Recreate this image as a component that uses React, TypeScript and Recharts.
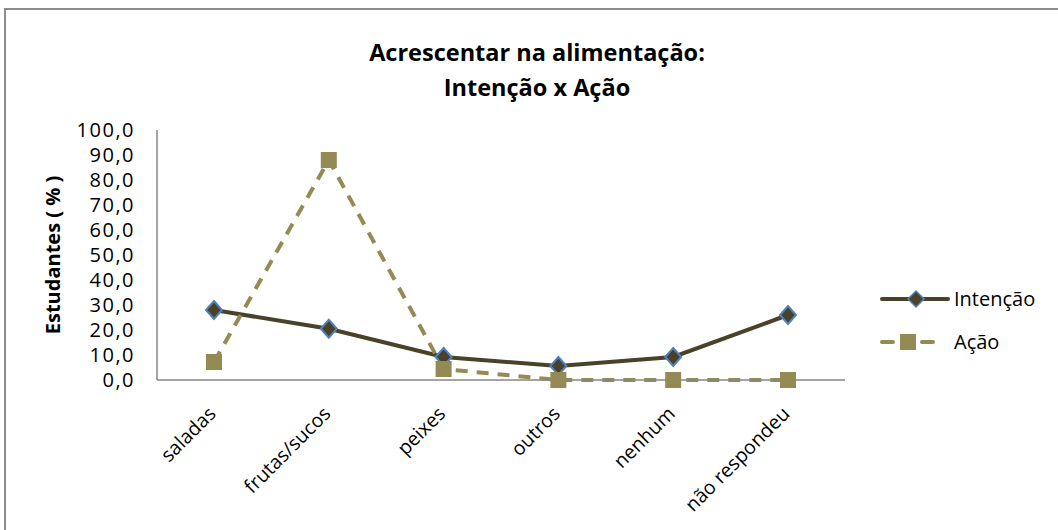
import React from 'react';
import { LineChart, Line, XAxis, YAxis } from 'recharts';

const categories = ['saladas', 'frutas/sucos', 'peixes', 'outros', 'nenhum', 'não respondeu'];
const intencao = [28.0, 20.5, 9.2, 5.6, 9.2, 26.0];
const acao = [7.2, 88.0, 4.4, 0.0, 0.0, 0.0];
const yTicks = [0, 10, 20, 30, 40, 50, 60, 70, 80, 90, 100];

const data = categories.map((c, i) => ({ cat: c, intencao: intencao[i], acao: acao[i] }));

const FONT = '"Open Sans", "DejaVu Sans", sans-serif';
const C_INT = '#4A4228';
const C_ACAO = '#948A54';
const C_EDGE = '#4F81BD';

const Diamond = (props: any) => {
  const { cx, cy } = props;
  if (cx == null || cy == null) return null;
  const r = 9;
  return (
    <path
      d={`M${cx},${cy - r} L${cx + r - 1},${cy} L${cx},${cy + r} L${cx - r + 1},${cy} Z`}
      fill={C_INT}
      stroke={C_EDGE}
      strokeWidth={2}
    />
  );
};

const Square = (props: any) => {
  const { cx, cy } = props;
  if (cx == null || cy == null) return null;
  const r = 8;
  return <rect x={cx - r} y={cy - r} width={2 * r} height={2 * r} fill={C_ACAO} />;
};

const XTick = (props: any) => {
  const { x, y, payload } = props;
  const ax = x + 3;
  const ay = y + 27;
  return (
    <text
      x={ax}
      y={ay}
      transform={`rotate(-45 ${ax} ${ay})`}
      textAnchor="end"
      fontSize={19.5}
      fontFamily={FONT}
      fill="#000"
    >
      {payload.value}
    </text>
  );
};

const YTick = (props: any) => {
  const { x, y, payload } = props;
  return (
    <text x={x} y={y} dy="0.36em" textAnchor="end" fontSize={20} letterSpacing={1.5} fontFamily={FONT} fill="#000">
      {payload.value.toFixed(1).replace('.', ',')}
    </text>
  );
};

const LegendBox = () => (
  <svg width={175} height={80} style={{ position: 'absolute', left: 880, top: 285 }}>
    <line x1={2} y1={14} x2={68} y2={14} stroke={C_INT} strokeWidth={4} strokeLinecap="round" />
    <path d="M36,6 L44,14 L36,22 L28,14 Z" fill={C_INT} stroke={C_EDGE} strokeWidth={1.5} />
    <text x={74} y={14} dy="0.36em" fontSize={20} fontFamily={FONT} fill="#000">Intenção</text>
    <line x1={2} y1={57} x2={13} y2={57} stroke={C_ACAO} strokeWidth={4} strokeLinecap="round" />
    <line x1={42} y1={57} x2={53} y2={57} stroke={C_ACAO} strokeWidth={4} strokeLinecap="round" />
    <rect x={20} y={49} width={16} height={16} fill={C_ACAO} />
    <text x={74} y={57} dy="0.36em" fontSize={20} fontFamily={FONT} fill="#000">Ação</text>
  </svg>
);

export default function App() {
  return (
    <div style={{ position: 'absolute', left: 0, top: 0, width: 1058, height: 530, background: '#fff', overflow: 'hidden' }}>
      <div style={{ position: 'absolute', left: 4, top: 8, width: 1070, height: 540, border: '2px solid #8c8c8c', boxSizing: 'border-box' }} />
      <div style={{ position: 'absolute', left: 0, top: 35, width: 1074, textAlign: 'center', fontFamily: FONT, fontWeight: 700, fontSize: 23.5, lineHeight: '35px', color: '#000' }}>
        Acrescentar na alimentação:<br />Intenção x Ação
      </div>
      <div style={{ position: 'absolute', left: 0, top: 0 }}>
        <LineChart width={1058} height={530} data={data} margin={{ top: 130, right: 213, bottom: 0, left: 0 }}>
          <XAxis
            dataKey="cat"
            padding={{ left: 57, right: 57 }}
            axisLine={{ stroke: '#868686', strokeWidth: 1.5 }}
            tickLine={false}
            tick={<XTick />}
            interval={0}
            height={150}
          />
          <YAxis
            domain={[0, 100]}
            ticks={yTicks}
            interval={0}
            width={157}
            axisLine={{ stroke: '#868686', strokeWidth: 1.5 }}
            tickLine={false}
            tickSize={0}
            tickMargin={22}
            tick={<YTick />}
            label={{ value: 'Estudantes ( % )', angle: -90, position: 'insideLeft', dx: 48, dy: 0, style: { textAnchor: 'middle', fontSize: 20, fontWeight: 700, fontFamily: FONT, fill: '#000' } }}
          />
          <Line
            dataKey="intencao"
            name="Intenção"
            stroke={C_INT}
            strokeWidth={4}
            dot={<Diamond />}
            activeDot={false}
            isAnimationActive={false}
          />
          <Line
            dataKey="acao"
            name="Ação"
            stroke={C_ACAO}
            strokeWidth={4}
            strokeDasharray="12 9"
            dot={<Square />}
            activeDot={false}
            isAnimationActive={false}
          />
        </LineChart>
      </div>
      <LegendBox />
    </div>
  );
}
